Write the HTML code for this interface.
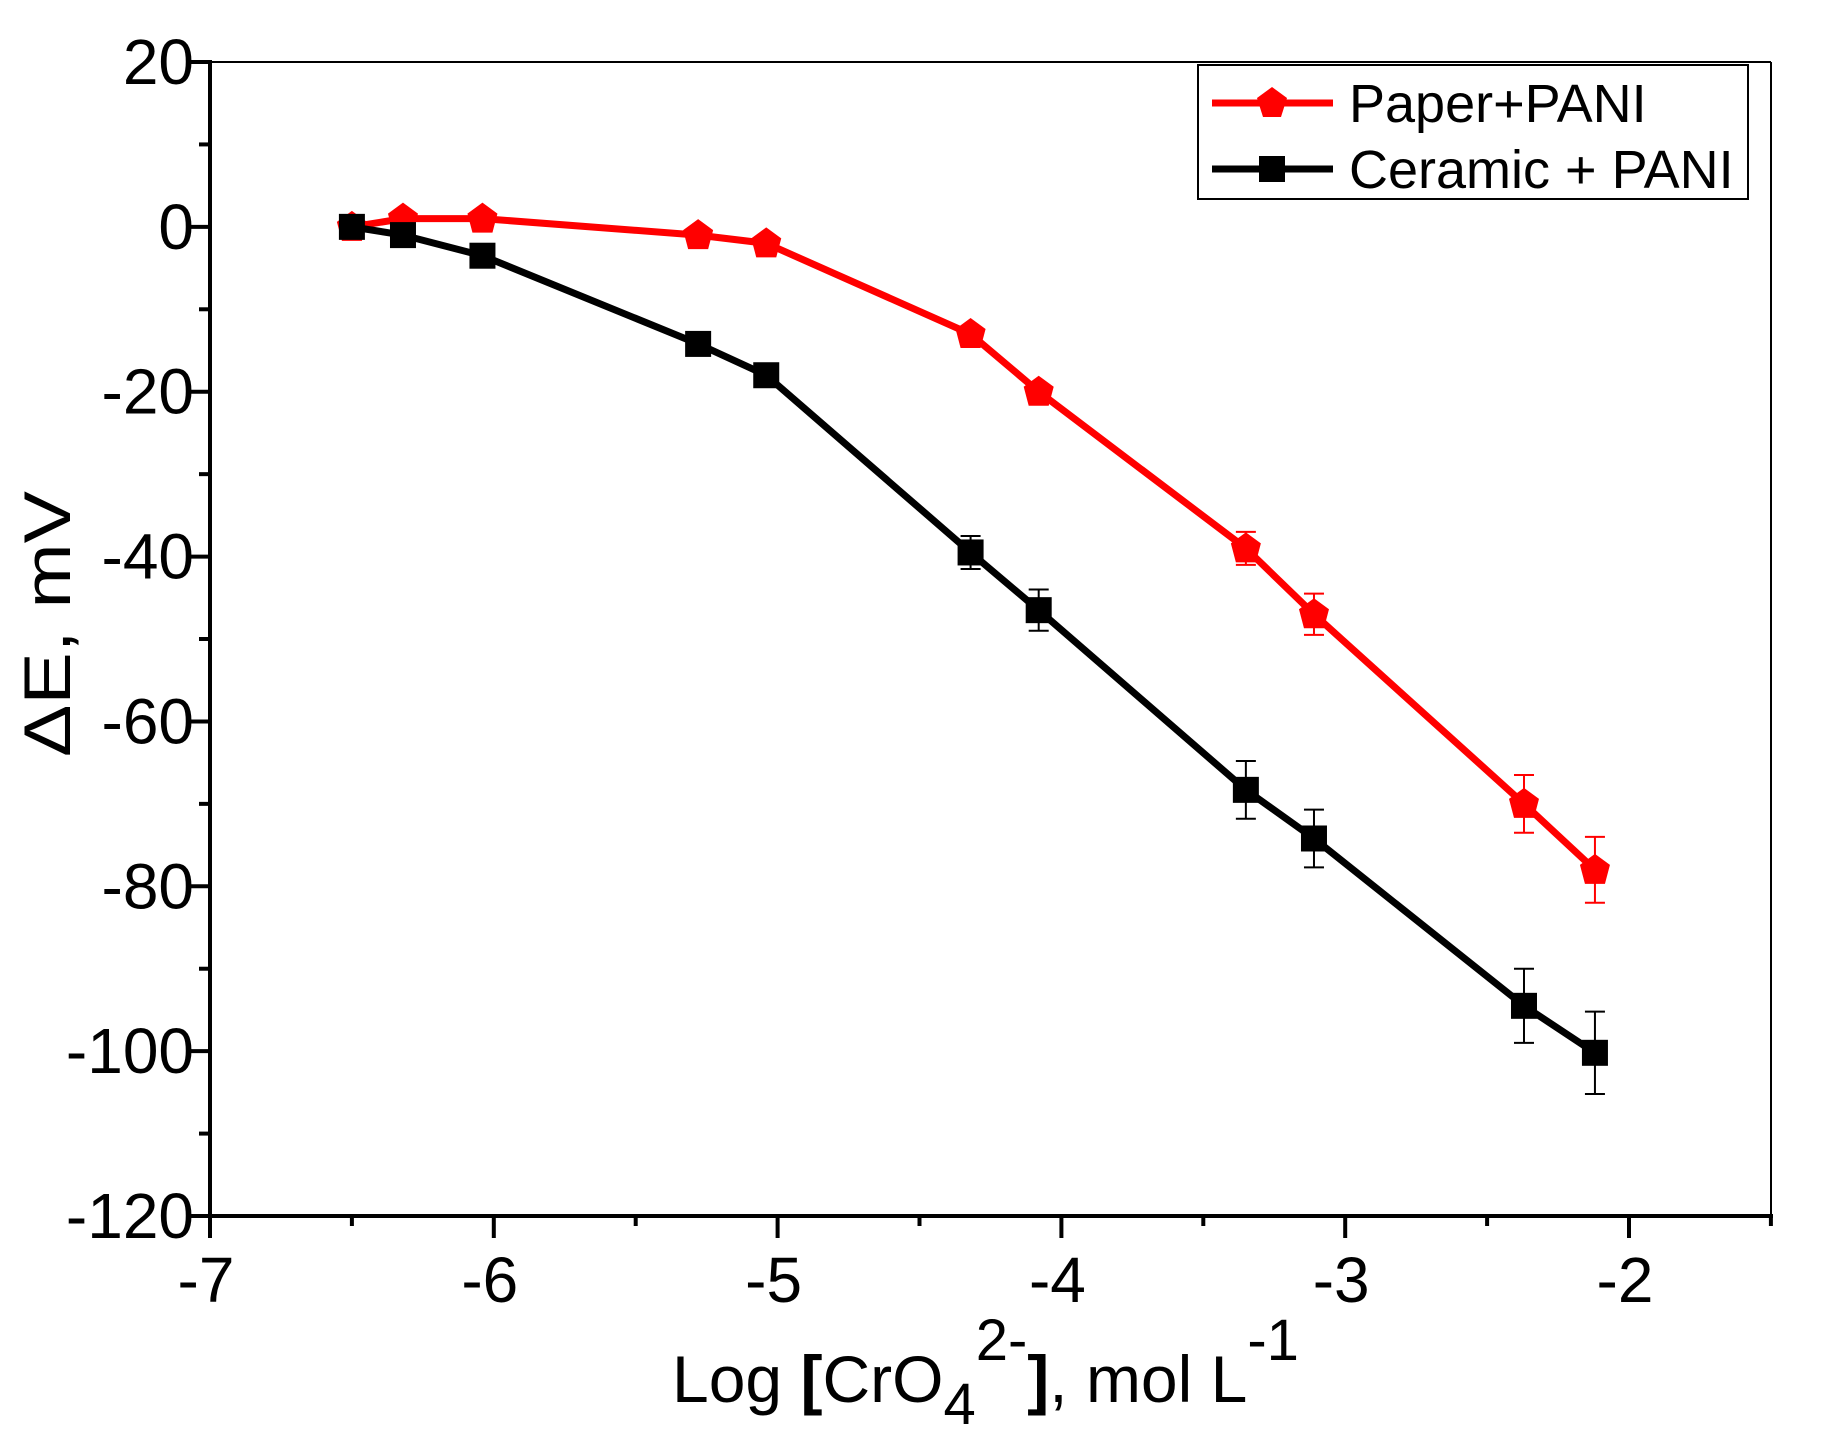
<!DOCTYPE html>
<html><head><meta charset="utf-8"><style>
html,body{margin:0;padding:0;background:#fff;}
svg{display:block;font-family:"Liberation Sans",Arial,sans-serif;}
</style></head><body>
<svg id="s" width="1824" height="1440" viewBox="0 0 1824 1440" xmlns="http://www.w3.org/2000/svg">
<rect width="1824" height="1440" fill="#fff"/>
<g id="g"></g>
<text x="672" y="1402" font-size="66" fill="#000">Log <tspan font-weight="bold">[</tspan>CrO<tspan font-size="58" dy="22">4</tspan><tspan font-size="58" dy="-64">2-</tspan><tspan dy="42" font-weight="bold">]</tspan>, mol L<tspan font-size="58" dy="-42">-1</tspan></text>
<text transform="translate(70,624) rotate(-90)" text-anchor="middle" font-size="66" fill="#000" textLength="266" lengthAdjust="spacingAndGlyphs">ΔE, mV</text>
<rect x="1198" y="65" width="550" height="134" fill="#fff" stroke="#000" stroke-width="2"/>
<line x1="1212" y1="103" x2="1333" y2="103" stroke="#f00" stroke-width="7"/>
<polygon points="1272,87 1287,98 1281,117 1263,117 1257,98" fill="#f00"/>
<text x="1349" y="122" font-size="54" fill="#000">Paper+PANI</text>
<line x1="1212" y1="169" x2="1333" y2="169" stroke="#000" stroke-width="7"/>
<rect x="1259" y="156" width="26" height="26" fill="#000"/>
<text x="1349" y="188" font-size="54" fill="#000">Ceramic + PANI</text>
</svg>
<script>
const NS="http://www.w3.org/2000/svg",g=document.getElementById('g');
const X=v=>210+(v+7)*283.8, Y=v=>62+(20-v)*8.243;
function el(t,a){const e=document.createElementNS(NS,t);for(const k in a)e.setAttribute(k,a[k]);g.appendChild(e);return e;}
function tx(x,y,s,anc){const e=el('text',{x,y,'font-size':64,'text-anchor':anc,fill:'#000'});e.textContent=s;}
el('line',{x1:210,y1:62,x2:1771,y2:62,stroke:'#000','stroke-width':2});
el('line',{x1:1771,y1:62,x2:1771,y2:1216,stroke:'#000','stroke-width':2});
el('line',{x1:210,y1:60,x2:210,y2:1218,stroke:'#000','stroke-width':4});
el('line',{x1:208,y1:1216,x2:1773,y2:1216,stroke:'#000','stroke-width':4});
for(let v=20;v>=-120;v-=10){const y=Y(v),maj=(v%20===0);
 el('line',{x1:maj?188:199,y1:y,x2:210,y2:y,stroke:'#000','stroke-width':4});
 if(maj)tx(194,y+22,String(v),'end');}
for(let v=-7;v<=-1.5;v+=0.5){const x=X(v),maj=Math.abs(v-Math.round(v))<1e-6;
 el('line',{x1:x,y1:1216,x2:x,y2:maj?1238:1226,stroke:'#000','stroke-width':4});
 if(maj)tx(x-4,1302,String(v),'middle');}
const xs=[-6.5,-6.32,-6.04,-5.28,-5.04,-4.32,-4.08,-3.35,-3.11,-2.37,-2.12];
const red=[0,1,1,-1,-2,-13,-20,-39,-47,-70,-78], re=[0,0,0,0.5,0.5,0.8,0.8,2,2.5,3.5,4];
const blk=[0,-1,-3.5,-14.2,-18,-39.5,-46.5,-68.3,-74.2,-94.5,-100.2], be=[0,0,0,0.5,0.5,2,2.5,3.5,3.5,4.5,5];
function series(d,e,col,mk){
 el('polyline',{points:xs.map((x,i)=>X(x)+','+Y(d[i])).join(' '),fill:'none',stroke:col,'stroke-width':7,'stroke-linejoin':'round'});
 xs.forEach((x,i)=>{if(e[i]>0){const cx=X(x),y1=Y(d[i]+e[i]),y2=Y(d[i]-e[i]);
  el('line',{x1:cx,y1,x2:cx,y2,stroke:col,'stroke-width':2});
  el('line',{x1:cx-10,y1,x2:cx+10,y2:y1,stroke:col,'stroke-width':2});
  el('line',{x1:cx-10,y1:y2,x2:cx+10,y2,stroke:col,'stroke-width':2});}});
 xs.forEach((x,i)=>{const cx=X(x),cy=Y(d[i]);
  if(mk==='p'){el('polygon',{points:`${cx},${cy-16} ${cx+15},${cy-5} ${cx+10},${cy+14} ${cx-10},${cy+14} ${cx-15},${cy-5}`,fill:col});}
  else el('rect',{x:cx-13,y:cy-13,width:26,height:26,fill:col});});
}
series(red,re,'#f00','p');
series(blk,be,'#000','s');
</script>
</body></html>
